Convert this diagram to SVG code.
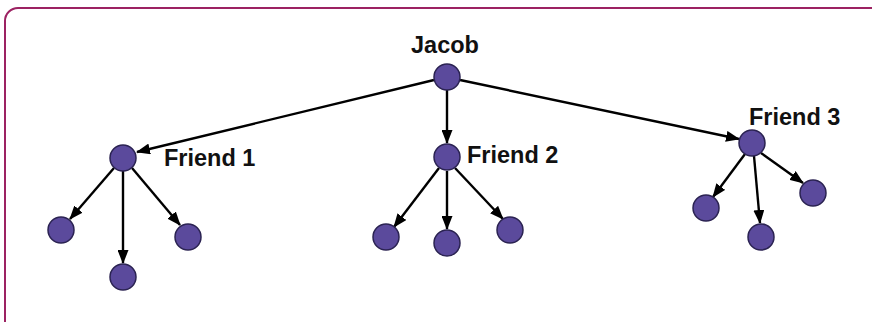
<svg xmlns="http://www.w3.org/2000/svg" width="872" height="322" viewBox="0 0 872 322">
<style>
.node{fill:#5b4a9c;stroke:#2b2352;stroke-width:1.5}
.lbl{font-family:"Liberation Sans",Arial,sans-serif;font-weight:bold;font-size:23.5px;fill:#111}
.edge{stroke:#000;stroke-width:2.4;fill:none;marker-end:url(#arr)}
</style>
<defs>
<marker id="arr" markerWidth="14" markerHeight="11" refX="13" refY="5.5" orient="auto" markerUnits="userSpaceOnUse">
<path d="M0,0 L14,5.5 L0,11 z" fill="#000"/>
</marker>
</defs>
<rect x="5" y="8" width="900" height="340" rx="13" ry="13" fill="#fff" stroke="#9c2262" stroke-width="2"/>
<g id="connectors">
<line class="edge" x1="434" y1="80" x2="137" y2="152"/>
<line class="edge" x1="447" y1="90" x2="447" y2="143"/>
<line class="edge" x1="460" y1="80" x2="739" y2="139"/>
<line class="edge" x1="114" y1="168" x2="70" y2="219"/>
<line class="edge" x1="123" y1="171" x2="123" y2="263"/>
<line class="edge" x1="132" y1="168" x2="180" y2="225"/>
<line class="edge" x1="439" y1="168" x2="394" y2="227"/>
<line class="edge" x1="447" y1="171" x2="447" y2="229"/>
<line class="edge" x1="455" y1="168" x2="503" y2="219"/>
<line class="edge" x1="745" y1="154" x2="713" y2="197"/>
<line class="edge" x1="754" y1="156" x2="760" y2="223"/>
<line class="edge" x1="761" y1="153" x2="803" y2="183"/>
</g>
<g id="jacob"><circle class="node" cx="447" cy="77" r="13"/><text class="lbl" x="445" y="53" text-anchor="middle">Jacob</text></g>
<g id="friend1"><circle class="node" cx="123" cy="158" r="13"/><text class="lbl" x="164" y="166">Friend 1</text></g>
<g id="friend2"><circle class="node" cx="447" cy="157" r="13"/><text class="lbl" x="467" y="163">Friend 2</text></g>
<g id="friend3"><circle class="node" cx="752" cy="143" r="13"/><text class="lbl" x="749" y="125">Friend 3</text></g>
<g id="f1c1"><circle class="node" cx="61" cy="230" r="13"/></g>
<g id="f1c2"><circle class="node" cx="123" cy="277" r="13"/></g>
<g id="f1c3"><circle class="node" cx="188" cy="237" r="13"/></g>
<g id="f2c1"><circle class="node" cx="386" cy="237" r="13"/></g>
<g id="f2c2"><circle class="node" cx="447" cy="243" r="13"/></g>
<g id="f2c3"><circle class="node" cx="510" cy="230" r="13"/></g>
<g id="f3c1"><circle class="node" cx="706" cy="208" r="13"/></g>
<g id="f3c2"><circle class="node" cx="761" cy="237" r="13"/></g>
<g id="f3c3"><circle class="node" cx="813" cy="193" r="13"/></g>
</svg>
